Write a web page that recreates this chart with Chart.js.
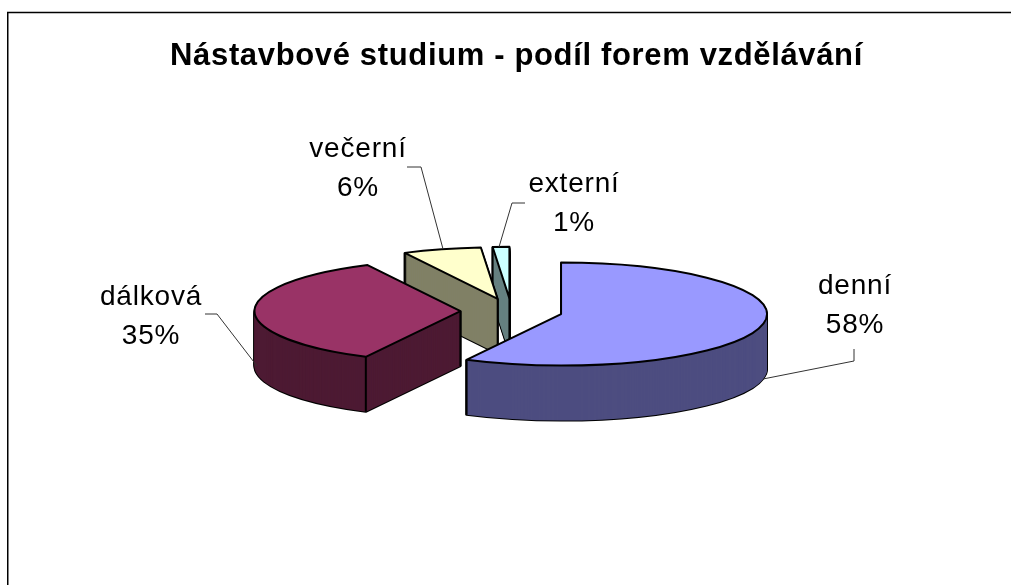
<!DOCTYPE html>
<html>
<head>
    <meta charset="utf-8">
    <title>Nástavbové studium</title>
    <style>
        body {
            margin: 0;
            background-color: #fff;
        }

        .chart-wrapper {
            position: absolute;
            left: 0;
            top: 0;
            width: 1011px;
            height: 585px;
        }
    </style>
</head>
<body>
<div class="chart-wrapper">
    <canvas id="podilChart"></canvas>
</div>

<script src="https://cdn.jsdelivr.net/npm/chart.js@4.4.1/dist/chart.umd.min.js"></script>
<script>
    const chartTitle = 'Nástavbové studium - podíl forem vzdělávání';
    const categories = ['denní', 'dálková', 'večerní', 'externí'];
    const shares = [57.6, 34.95, 6.15, 1.3];
    const topColors = ['#9999ff', '#993366', '#ffffcc', '#ccffff'];
    const wallColors = ['#4d4d80', '#4d1a33', '#808066', '#668080'];

    // the pie is squashed to look like the old 3D office charts
    const SQUASH = 0.25;
    const DEPTH = 55;
    const LABEL_FONT = '28px "Liberation Sans", Arial, sans-serif';

    // label centres and leader lines, in page pixels
    const labelPos = [[855, 286], [151, 297], [358, 149], [574, 184]];
    const leaders = [
        [[854, 349], [854, 361], [763, 379]],
        [[205, 314], [217, 314], [257, 366]],
        [[407, 167], [421, 167], [443, 249]],
        [[525, 203], [512, 203], [499, 247]]
    ];

    function slicePath(ctx, arc, dy) {
        const k = SQUASH;
        const mid = (arc.startAngle + arc.endAngle) / 2;
        const off = arc.options.offset;
        const cx = arc.x + Math.cos(mid) * off;
        const cy = arc.y + Math.sin(mid) * off * k + dy;
        ctx.beginPath();
        ctx.moveTo(cx, cy);
        ctx.ellipse(cx, cy, arc.outerRadius, arc.outerRadius * k, 0, arc.startAngle, arc.endAngle);
        ctx.closePath();
        return {cx, cy};
    }

    const pie3d = {
        id: 'pie3d',
        afterLayout(chart) {
            // title sits a bit right of the pie centre
            chart.titleBlock.left += 5;
            chart.titleBlock.right += 5;
        },
        beforeDatasetsDraw(chart) {
            const ctx = chart.ctx;
            const arcs = chart.getDatasetMeta(0).data;
            const order = arcs.map((a, i) => i).sort((a, b) => {
                const ya = Math.sin((arcs[a].startAngle + arcs[a].endAngle) / 2);
                const yb = Math.sin((arcs[b].startAngle + arcs[b].endAngle) / 2);
                return ya - yb;
            });

            ctx.save();
            ctx.lineJoin = 'round';
            ctx.lineWidth = 2;
            ctx.strokeStyle = '#000';
            order.forEach(i => {
                const arc = arcs[i];
                // walls: outline of every copy first, then the fill over it
                for (let dy = DEPTH; dy > 0; dy--) {
                    slicePath(ctx, arc, dy);
                    ctx.stroke();
                }
                ctx.fillStyle = wallColors[i];
                for (let dy = DEPTH; dy > 0; dy--) {
                    slicePath(ctx, arc, dy);
                    ctx.fill();
                }
                const {cx, cy} = slicePath(ctx, arc, 0);
                // vertical edges at the centre and the two rim corners
                const corners = [[cx, cy]];
                [arc.startAngle, arc.endAngle].forEach(a => {
                    corners.push([cx + Math.cos(a) * arc.outerRadius, cy + Math.sin(a) * arc.outerRadius * SQUASH]);
                });
                // an edge is hidden when the top face lies right below its upper end
                const visible = corners.filter(p => !ctx.isPointInPath(p[0], p[1] + 3));
                visible.forEach(p => {
                    ctx.beginPath();
                    ctx.moveTo(p[0], p[1]);
                    ctx.lineTo(p[0], p[1] + DEPTH);
                    ctx.stroke();
                });
                slicePath(ctx, arc, 0);
                ctx.fillStyle = topColors[i];
                ctx.fill();
                ctx.stroke();
            });
            ctx.restore();
            return false;
        },
        afterDraw(chart) {
            const ctx = chart.ctx;
            const total = shares.reduce((a, b) => a + b, 0);
            ctx.save();
            ctx.strokeStyle = '#333';
            ctx.lineWidth = 1;
            leaders.forEach(line => {
                ctx.beginPath();
                line.forEach((p, j) => j ? ctx.lineTo(p[0], p[1]) : ctx.moveTo(p[0], p[1]));
                ctx.stroke();
            });
            ctx.fillStyle = '#000';
            ctx.font = LABEL_FONT;
            ctx.letterSpacing = '0.8px';
            ctx.textAlign = 'center';
            ctx.textBaseline = 'middle';
            categories.forEach((name, i) => {
                ctx.fillText(name, labelPos[i][0], labelPos[i][1]);
                ctx.fillText(Math.round(shares[i] / total * 100) + '%', labelPos[i][0], labelPos[i][1] + 39);
            });
            ctx.restore();
        }
    };

    const frame = {
        id: 'frame',
        beforeDraw(chart) {
            const ctx = chart.ctx;
            ctx.save();
            ctx.strokeStyle = '#000';
            ctx.lineWidth = 1.5;
            ctx.beginPath();
            ctx.moveTo(7.75, 585);
            ctx.lineTo(7.75, 12.5);
            ctx.lineTo(1011, 12.5);
            ctx.stroke();
            ctx.restore();
            ctx.letterSpacing = '0.65px';
        }
    };

    new Chart(document.getElementById('podilChart'), {
        type: 'pie',
        data: {
            labels: categories,
            datasets: [{
                data: shares,
                backgroundColor: topColors,
                borderColor: '#000',
                borderWidth: 1,
                offset: 51,
                radius: 206
            }]
        },
        options: {
            responsive: true,
            maintainAspectRatio: false,
            animation: false,
            layout: {padding: {left: 12, right: 0, top: 0, bottom: 38}},
            plugins: {
                legend: {display: false},
                tooltip: {enabled: false},
                title: {
                    display: true,
                    text: chartTitle,
                    color: '#000',
                    font: {family: '"Liberation Sans", Arial, sans-serif', size: 31, weight: 'bold'},
                    padding: {top: 38, bottom: 0}
                }
            }
        },
        plugins: [frame, pie3d]
    });
</script>
</body>
</html>
